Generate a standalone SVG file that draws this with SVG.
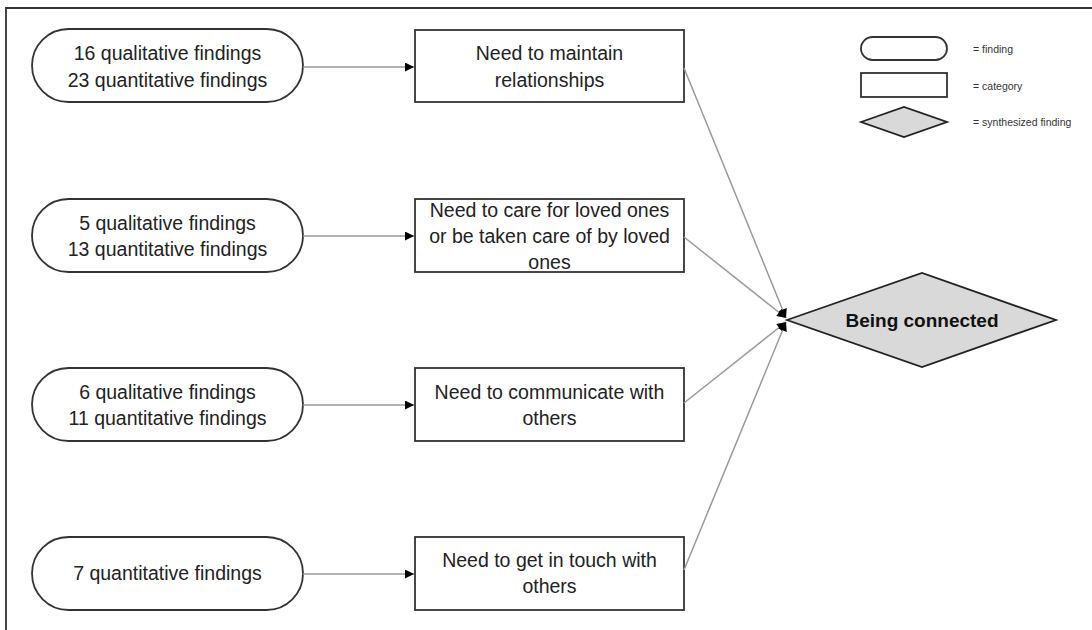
<svg xmlns="http://www.w3.org/2000/svg" width="1092" height="630" viewBox="0 0 1092 630">
<defs>
<marker id="arr" viewBox="0 0 10 10" refX="10" refY="5" markerWidth="11" markerHeight="9" markerUnits="userSpaceOnUse" orient="auto">
<path d="M0,0 L10,5 L0,10 Z" fill="#000"/>
</marker>
</defs>
<style>
.pill{fill:#fff;stroke:#333;stroke-width:1.8}
.box{fill:#fff;stroke:#333;stroke-width:1.8}
.dia{fill:#d9d9d9;stroke:#222;stroke-width:1.8}
.t{font-family:"Liberation Sans",Arial,sans-serif;font-size:19.5px;fill:#222;text-anchor:middle}
.b{font-family:"Liberation Sans",Arial,sans-serif;font-size:19px;font-weight:bold;fill:#111;text-anchor:middle}
.lg{font-family:"Liberation Sans",Arial,sans-serif;font-size:10.5px;fill:#333}
.c{stroke:#9a9a9a;stroke-width:1.5;fill:none}
</style>
<rect width="1092" height="630" fill="#fff"/>
<path d="M6,630 V8 H1092" fill="none" stroke="#333" stroke-width="1.8"/>

<g id="legend">
<rect x="861" y="37" width="86" height="23" rx="11.5" class="pill" stroke-width="1.5"/>
<text x="973" y="53" class="lg">= finding</text>
<rect x="861" y="73" width="86" height="24" class="box" stroke-width="1.5"/>
<text x="973" y="90" class="lg">= category</text>
<polygon points="861,122 904,107 947,122 904,137" class="dia" stroke-width="1.5"/>
<text x="973" y="126" class="lg">= synthesized finding</text>
</g>

<g id="f1">
<rect x="32" y="29" width="271" height="73" rx="36.5" class="pill"/>
<text x="167.5" y="60" class="t">16 qualitative findings</text>
<text x="167.5" y="87" class="t">23 quantitative findings</text>
</g>
<g id="f2">
<rect x="32" y="199" width="271" height="73" rx="36.5" class="pill"/>
<text x="167.5" y="230" class="t">5 qualitative findings</text>
<text x="167.5" y="256" class="t">13 quantitative findings</text>
</g>
<g id="f3">
<rect x="32" y="368" width="271" height="73" rx="36.5" class="pill"/>
<text x="167.5" y="399" class="t">6 qualitative findings</text>
<text x="167.5" y="425" class="t">11 quantitative findings</text>
</g>
<g id="f4">
<rect x="32" y="537" width="271" height="73" rx="36.5" class="pill"/>
<text x="167.5" y="580" class="t">7 quantitative findings</text>
</g>

<g id="c1">
<rect x="415" y="30" width="269" height="72" class="box"/>
<text x="549.5" y="60" class="t">Need to maintain</text>
<text x="549.5" y="87" class="t">relationships</text>
</g>
<g id="c2">
<rect x="415" y="199" width="269" height="73" class="box"/>
<text x="549.5" y="217" class="t">Need to care for loved ones</text>
<text x="549.5" y="243" class="t">or be taken care of by loved</text>
<text x="549.5" y="269" class="t">ones</text>
</g>
<g id="c3">
<rect x="415" y="368" width="269" height="73" class="box"/>
<text x="549.5" y="399" class="t">Need to communicate with</text>
<text x="549.5" y="425" class="t">others</text>
</g>
<g id="c4">
<rect x="415" y="537" width="269" height="73" class="box"/>
<text x="549.5" y="567" class="t">Need to get in touch with</text>
<text x="549.5" y="593" class="t">others</text>
</g>

<g id="synth">
<polygon points="787,320 922,273 1056,320 922,367" class="dia"/>
<text x="922" y="327" class="b">Being connected</text>
</g>

<g id="connectors">
<line x1="303" y1="67" x2="414" y2="67" class="c" marker-end="url(#arr)"/>
<line x1="303" y1="236" x2="414" y2="236" class="c" marker-end="url(#arr)"/>
<line x1="303" y1="405" x2="414" y2="405" class="c" marker-end="url(#arr)"/>
<line x1="303" y1="574" x2="414" y2="574" class="c" marker-end="url(#arr)"/>
<line x1="684" y1="68" x2="786" y2="318" class="c" marker-end="url(#arr)"/>
<line x1="684" y1="237" x2="786" y2="318" class="c" marker-end="url(#arr)"/>
<line x1="684" y1="403" x2="786" y2="322" class="c" marker-end="url(#arr)"/>
<line x1="684" y1="570" x2="786" y2="322" class="c" marker-end="url(#arr)"/>
</g>
</svg>
